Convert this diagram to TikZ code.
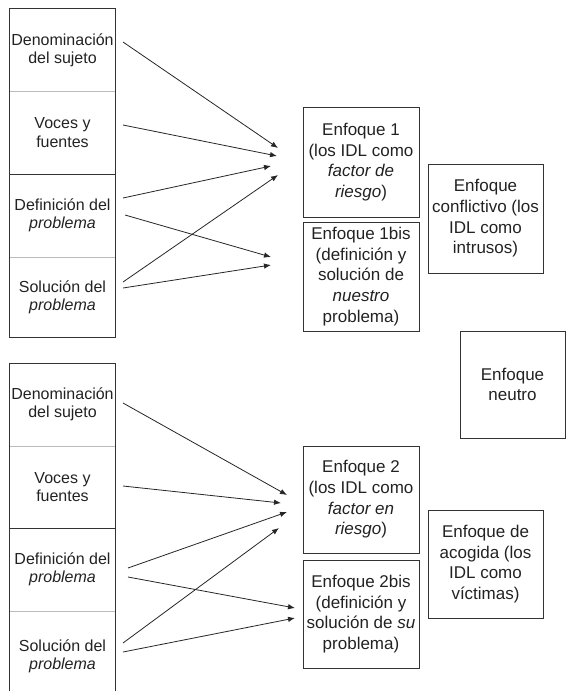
\documentclass[tikz,border=0pt]{standalone}
\usepackage{fontspec}
\setmainfont{Liberation Sans}
\usetikzlibrary{arrows.meta}
\definecolor{ink}{HTML}{222222}
\definecolor{edge}{HTML}{333333}
\definecolor{soft}{HTML}{BBBBBB}
\tikzset{
  cell/.style={minimum width=105pt, minimum height=82.5pt, inner sep=0pt, align=center, text=ink, font=\fontsize{16}{18.3}\selectfont},
  pairframe/.style={draw=edge, line width=0.8pt},
  divider/.style={draw=soft, line width=0.8pt},
  ebox/.style={draw=edge, line width=0.8pt, minimum width=116pt, inner sep=0pt, align=center, text=ink, font=\fontsize{17}{20.6}\selectfont},
  conn/.style={draw=black!85, line width=0.8pt, -{Latex[length=7pt,width=5.5pt]}}
}
\begin{document}
\begin{tikzpicture}[x=1pt,y=-1pt]
\useasboundingbox (0,0) rectangle (567,691);
\clip (0,0) rectangle (567,691);
% top column
\node[cell] (d1) at (62.5,50) {Denominación\\del sujeto};
\node[cell] (v1) at (62.5,132.5) {Voces y\\fuentes};
\node[cell] (f1) at (62.5,215.5) {Definición del\\\textit{problema}};
\node[cell, minimum height=80pt] (s1) at (62.5,297) {Solución del\\\textit{problema}};
\draw[pairframe] (d1.north west) rectangle (v1.south east);
\draw[pairframe] (f1.north west) rectangle (s1.south east);
\draw[divider] ([xshift=0.4pt]d1.south west) -- ([xshift=-0.4pt]d1.south east);
\draw[divider] ([xshift=0.4pt]f1.south west) -- ([xshift=-0.4pt]f1.south east);
% bottom column
\node[cell] (d2) at (62.5,404.5) {Denominación\\del sujeto};
\node[cell] (v2) at (62.5,487) {Voces y\\fuentes};
\node[cell] (f2) at (62.5,569.5) {Definición del\\\textit{problema}};
\node[cell, minimum height=90pt] (s2) at (62.5,656) {Solución del\\\textit{problema}};
\draw[pairframe] (d2.north west) rectangle (v2.south east);
\draw[pairframe] (f2.north west) rectangle (s2.south east);
\draw[divider] ([xshift=0.4pt]d2.south west) -- ([xshift=-0.4pt]d2.south east);
\draw[divider] ([xshift=0.4pt]f2.south west) -- ([xshift=-0.4pt]f2.south east);
% middle boxes
\node[ebox, minimum height=110pt] (e1) at (361,162) {Enfoque 1\\(los IDL como\\\textit{factor de}\\\textit{riesgo})};
\node[ebox, minimum height=109pt] (e1b) at (361,276.5) {Enfoque 1bis\\(definición y\\solución de\\\textit{nuestro}\\problema)};
\node[ebox, minimum height=107pt] (e2) at (361,499.5) {Enfoque 2\\(los IDL como\\\textit{factor en}\\\textit{riesgo})};
\node[ebox, minimum height=108pt] (e2b) at (361,614) {Enfoque 2bis\\(definición y\\solución de \textit{su}\\problema)};
% right boxes
\node[ebox, minimum width=115pt, minimum height=109pt] (conf) at (485.5,218.5) {Enfoque\\conflictivo (los\\IDL como\\intrusos)};
\node[ebox, minimum width=105pt, minimum height=107pt] (neut) at (512.5,384.5) {Enfoque\\neutro};
\node[ebox, minimum width=115pt, minimum height=108pt] (acog) at (485.5,564) {Enfoque de\\acogida (los\\IDL como\\víctimas)};
% connector points, top
\coordinate (a1) at (123,42);  \coordinate (b1) at (278,148);
\coordinate (a2) at (123,125); \coordinate (b2) at (277,156);
\coordinate (a3) at (123,198); \coordinate (b3) at (271,166);
\coordinate (a4) at (125,215); \coordinate (b4) at (271,257);
\coordinate (a5) at (123,282); \coordinate (b5) at (278,175);
\coordinate (a6) at (123,288); \coordinate (b6) at (271,265);
\draw[conn] (a1) -- (b1);
\draw[conn] (a2) -- (b2);
\draw[conn] (a3) -- (b3);
\draw[conn] (a4) -- (b4);
\draw[conn] (a5) -- (b5);
\draw[conn] (a6) -- (b6);
% connector points, bottom
\coordinate (c1) at (123,403); \coordinate (g1) at (287,495);
\coordinate (c2) at (123,486); \coordinate (g2) at (281,503);
\coordinate (c3) at (128,568); \coordinate (g3) at (287,512);
\coordinate (c4) at (128,577); \coordinate (g4) at (295,608);
\coordinate (c5) at (123,643); \coordinate (g5) at (279,528);
\coordinate (c6) at (123,652); \coordinate (g6) at (295,618);
\draw[conn] (c1) -- (g1);
\draw[conn] (c2) -- (g2);
\draw[conn] (c3) -- (g3);
\draw[conn] (c4) -- (g4);
\draw[conn] (c5) -- (g5);
\draw[conn] (c6) -- (g6);
\end{tikzpicture}
\end{document}
